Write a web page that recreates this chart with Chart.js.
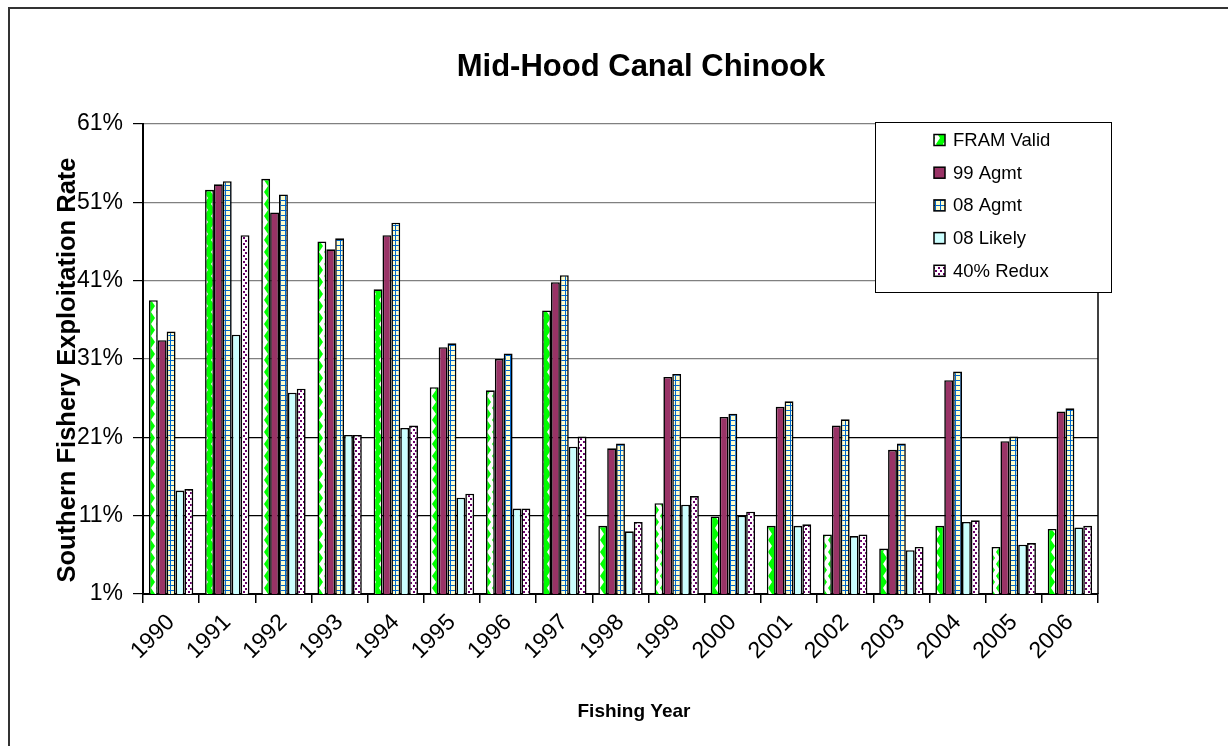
<!DOCTYPE html>
<html>
<head>
<meta charset="utf-8">
<title>Mid-Hood Canal Chinook</title>
<script src="https://cdn.jsdelivr.net/npm/chart.js@4.4.0/dist/chart.umd.min.js"></script>
<style>
  html, body { margin: 0; padding: 0; background: #fff; }
  #wrap { position: relative; width: 1228px; height: 746px; }
</style>
</head>
<body>
<div id="wrap"><canvas id="chart" width="1228" height="746"></canvas></div>
<script>
// values (percent)
const years = ['1990', '1991', '1992', '1993', '1994', '1995', '1996', '1997', '1998',
  '1999', '2000', '2001', '2002', '2003', '2004', '2005', '2006']
const framValid = [38.5, 52.6, 54.0, 46.0, 39.9, 27.4, 27.0, 37.2, 9.7, 12.6, 10.9, 9.7, 8.6, 6.8, 9.7, 7.0, 9.3]
const agmt99 = [33.4, 53.3, 49.7, 45.0, 46.8, 32.5, 31.0, 40.8, 19.6, 28.7, 23.6, 24.9, 22.5, 19.4, 28.3, 20.5, 24.3]
const agmt08 = [34.5, 53.7, 52.0, 46.4, 48.4, 33.0, 31.7, 41.7, 20.2, 29.1, 24.0, 25.6, 23.3, 20.2, 29.4, 21.1, 24.7]
const likely08 = [14.2, 34.1, 26.7, 21.3, 22.2, 13.3, 11.9, 19.8, 9.0, 12.4, 11.0, 9.7, 8.4, 6.6, 10.2, 7.3, 9.5]
const redux40 = [14.4, 46.8, 27.2, 21.3, 22.5, 13.8, 11.9, 21.1, 10.2, 13.5, 11.5, 9.9, 8.6, 7.0, 10.4, 7.5, 9.7]
const seriesNames = ['FRAM Valid', '99 Agmt', '08 Agmt', '08 Likely', '40% Redux']
const yTicks = [1, 11, 21, 31, 41, 51, 61]

const FONT = '"Liberation Sans", Arial, sans-serif'
Chart.defaults.font.family = FONT
Chart.defaults.color = '#000'

function makePattern(w, h, draw) {
  const c = document.createElement('canvas')
  c.width = w
  c.height = h
  const g = c.getContext('2d')
  draw(g)
  return g.createPattern(c, 'repeat')
}

// green / white zigzag
const zigzag = makePattern(12, 12, (g) => {
  g.fillStyle = '#fff'
  g.fillRect(0, 0, 12, 12)
  g.fillStyle = '#00ff00'
  g.beginPath()
  g.moveTo(0, 0); g.lineTo(7, 0); g.lineTo(11, 6); g.lineTo(7, 12); g.lineTo(0, 12); g.lineTo(4, 6)
  g.closePath()
  g.fill()
})

// yellow with blue grid
const grid = makePattern(5, 5, (g) => {
  g.fillStyle = '#ffffcc'
  g.fillRect(0, 0, 5, 5)
  g.fillStyle = '#0066cc'
  g.fillRect(0, 0, 5, 1)
  g.fillRect(0, 0, 1, 5)
})

// white with purple dots
const dots = makePattern(5, 6, (g) => {
  g.fillStyle = '#fff'
  g.fillRect(0, 0, 5, 6)
  g.fillStyle = '#660066'
  g.fillRect(0, 0, 2, 2)
  g.fillRect(3, 3, 2, 2)
})

const fills = [zigzag, '#993366', grid, '#ccffff', dots]
const values = [framValid, agmt99, agmt08, likely08, redux40]

const decor = {
  id: 'decor',
  beforeDraw(chart) {
    const ctx = chart.ctx
    ctx.save()
    ctx.fillStyle = '#fff'
    ctx.fillRect(0, 0, chart.width, chart.height)
    ctx.strokeStyle = '#333'
    ctx.lineWidth = 2
    ctx.beginPath()
    ctx.moveTo(9, chart.height + 5)
    ctx.lineTo(9, 8)
    ctx.lineTo(chart.width + 5, 8)
    ctx.stroke()
    ctx.restore()
  },
  afterDraw(chart) {
    const ctx = chart.ctx
    const a = chart.chartArea
    ctx.save()

    // right edge of plot
    ctx.strokeStyle = '#000'
    ctx.lineWidth = 1.5
    ctx.beginPath()
    ctx.moveTo(a.right, a.top)
    ctx.lineTo(a.right, a.bottom)
    ctx.stroke()

    // titles
    ctx.fillStyle = '#000'
    ctx.textAlign = 'center'
    ctx.textBaseline = 'alphabetic'
    ctx.font = 'bold 31px ' + FONT
    ctx.fillText('Mid-Hood Canal Chinook', 641, 76)

    ctx.font = 'bold 19px ' + FONT
    ctx.fillText('Fishing Year', 634, 717)

    ctx.save()
    ctx.translate(75, 370)
    ctx.rotate(-Math.PI / 2)
    ctx.font = 'bold 25.5px ' + FONT
    ctx.fillText('Southern Fishery Exploitation Rate', 0, 0)
    ctx.restore()

    // legend box
    const lx = 875, ly = 122, lw = 236, lh = 170
    ctx.fillStyle = '#fff'
    ctx.fillRect(lx, ly, lw, lh)
    ctx.strokeStyle = '#000'
    ctx.lineWidth = 1
    ctx.strokeRect(lx + 0.5, ly + 0.5, lw, lh)

    ctx.font = '18.5px ' + FONT
    ctx.textAlign = 'left'
    ctx.textBaseline = 'middle'
    chart.data.datasets.forEach((ds, i) => {
      const cy = 140 + i * 32.7
      ctx.fillStyle = ds.backgroundColor
      ctx.fillRect(934, cy - 5.5, 11, 11)
      ctx.strokeStyle = '#000'
      ctx.lineWidth = 1.5
      ctx.strokeRect(934, cy - 5.5, 11, 11)
      ctx.fillStyle = '#000'
      ctx.fillText(ds.label, 953, cy + 1)
    })
    ctx.restore()
  }
}

new Chart(document.getElementById('chart'), {
  type: 'bar',
  data: {
    labels: years,
    datasets: seriesNames.map((name, i) => ({
      label: name,
      data: values[i],
      backgroundColor: fills[i],
      borderColor: '#000',
      borderWidth: 1.6,
      categoryPercentage: 0.79,
      barPercentage: 1.0,
    }))
  },
  options: {
    responsive: false,
    animation: false,
    layout: { padding: { top: 124, right: 130, left: 0, bottom: 0 } },
    plugins: {
      legend: { display: false },
      title: { display: false },
      tooltip: { enabled: false }
    },
    scales: {
      x: {
        offset: true,
        grid: { offset: true, drawOnChartArea: false, tickLength: 9, tickColor: '#000', lineWidth: 1.5 },
        border: { color: '#000', width: 2 },
        ticks: {
          minRotation: 45,
          maxRotation: 45,
          padding: 6,
          font: { size: 23 },
          color: '#000'
        },
        afterFit(scale) { scale.height = 746 - 594 }
      },
      y: {
        min: 1,
        max: 61,
        afterBuildTicks(scale) { scale.ticks = yTicks.map(v => ({ value: v })) },
        grid: {
          color: (c) => (c.tick && c.tick.value >= 31 ? '#808080' : '#000'),
          lineWidth: 1.2,
          tickLength: 10,
          tickColor: '#000'
        },
        border: { color: '#000', width: 2 },
        ticks: {
          padding: 10,
          font: { size: 23 },
          color: '#000',
          callback: (v) => v + '%'
        },
        afterFit(scale) { scale.width = 143 }
      }
    }
  },
  plugins: [decor]
})
</script>
</body>
</html>
